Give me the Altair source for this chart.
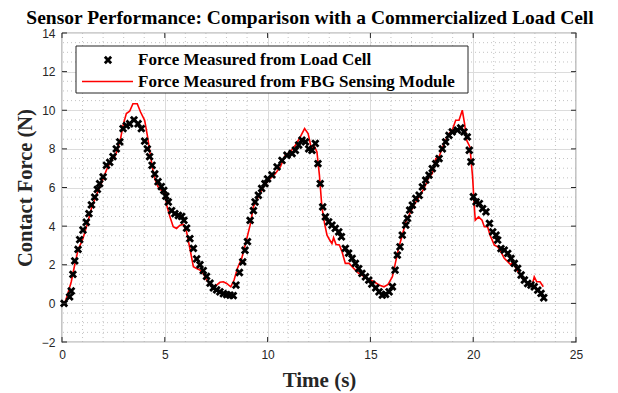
import altair as alt
import pandas as pd

# ---- data ----
t_cell = [0.1, 0.37, 0.45, 0.53, 0.62, 0.78, 0.86, 1.02, 1.18, 1.31, 1.43, 1.59, 1.72, 1.83, 2.0,
          2.16, 2.32, 2.48, 2.64, 2.81, 2.97, 3.13, 3.29, 3.5, 3.7, 3.86, 4.02, 4.15, 4.26, 4.38,
          4.51, 4.67, 4.83, 4.95, 5.05, 5.17, 5.33, 5.49, 5.66, 5.82, 5.93, 6.06, 6.22, 6.39, 6.55,
          6.71, 6.87, 7.03, 7.2, 7.36, 7.52, 7.68, 7.85, 8.01, 8.17, 8.33, 8.46, 8.63, 8.79, 8.9,
          9.02, 9.15, 9.31, 9.39, 9.55, 9.71, 9.87, 10.0, 10.21, 10.46, 10.7, 10.94, 11.19, 11.35,
          11.51, 11.67, 11.84, 12.0, 12.16, 12.32, 12.45, 12.56, 12.68, 12.81, 12.97, 13.13, 13.29,
          13.46, 13.59, 13.78, 13.94, 14.11, 14.27, 14.43, 14.59, 14.76, 14.92, 15.07, 15.26, 15.42,
          15.58, 15.74, 15.91, 16.07, 16.2, 16.31, 16.44, 16.55, 16.72, 16.8, 16.91, 17.04, 17.21,
          17.37, 17.53, 17.69, 17.85, 18.01, 18.18, 18.34, 18.5, 18.66, 18.82, 18.98, 19.23, 19.39,
          19.55, 19.71, 19.81, 19.89, 20.01, 20.14, 20.3, 20.46, 20.62, 20.79, 20.95, 21.11, 21.19,
          21.35, 21.51, 21.68, 21.84, 22.0, 22.16, 22.33, 22.49, 22.65, 22.81, 22.97, 23.14, 23.3,
          23.43]
f_cell = [0.0, 0.34, 0.64, 1.5, 2.2, 2.8, 3.3, 3.8, 4.2, 4.65, 5.1, 5.5, 5.9, 6.2, 6.55,
          7.15, 7.3, 7.6, 8.0, 8.36, 9.05, 9.2, 9.3, 9.5, 9.3, 9.05, 8.4, 8.0, 7.6, 7.15,
          6.7, 6.3, 6.05, 5.85, 5.55, 5.25, 4.8, 4.65, 4.55, 4.5, 4.3, 3.9, 3.35, 2.85, 2.3,
          2.0, 1.7, 1.4, 1.05, 0.8, 0.7, 0.6, 0.5, 0.45, 0.43, 0.4, 0.95, 1.6, 2.15, 2.75,
          3.2, 4.3, 4.8, 5.25, 5.6, 5.95, 6.2, 6.45, 6.65, 7.07, 7.4, 7.67, 7.76, 7.93,
          8.2, 8.45, 8.36, 8.0, 7.93, 8.28, 7.24, 6.2, 5.0, 4.48, 4.22, 4.05, 3.88,
          3.7, 3.45, 2.85, 2.6, 2.33, 2.07, 1.8, 1.55, 1.38, 1.2, 1.0, 0.8, 0.6,
          0.43, 0.47, 0.6, 0.86, 1.72, 2.5, 2.93, 3.53, 4.05, 4.4, 4.83, 5.09, 5.43,
          5.6, 6.03, 6.38, 6.64, 6.98, 7.24, 7.5, 8.0, 8.36, 8.7, 8.88, 8.97, 9.09,
          8.88, 8.62, 7.93, 7.33, 5.52, 5.26, 5.17, 4.91, 4.74, 4.14, 3.7, 3.53, 3.28,
          2.84, 2.76, 2.59, 2.33, 2.07, 1.81, 1.47, 1.21, 1.03, 0.95, 0.86, 0.69, 0.52,
          0.29]

t_fbg = [0.05, 0.16, 0.29, 0.45, 0.62, 0.78, 1.02, 1.26, 1.43, 1.67, 1.91, 2.16, 2.4, 2.56, 2.69,
         2.85, 2.97, 3.13, 3.29, 3.45, 3.66, 3.82, 4.02, 4.15, 4.26, 4.39, 4.51, 4.67, 4.83, 5.0,
         5.09, 5.25, 5.41, 5.57, 5.74, 5.9, 6.06, 6.22, 6.39, 6.55, 6.71, 6.87, 7.03, 7.2, 7.36,
         7.52, 7.68, 7.85, 8.01, 8.21, 8.37, 8.53, 8.74, 8.95, 9.15, 9.31, 9.55, 9.79, 10.05, 10.38,
         10.62, 10.86, 11.1, 11.35, 11.59, 11.8, 11.97, 12.13, 12.29, 12.4, 12.52, 12.64, 12.77,
         12.89, 13.02, 13.13, 13.21, 13.33, 13.49, 13.62, 13.78, 13.97, 14.19, 14.43, 14.67, 14.93,
         15.18, 15.42, 15.66, 15.86, 16.07, 16.23, 16.39, 16.55, 16.72, 16.88, 17.12, 17.37, 17.61,
         17.85, 18.01, 18.18, 18.34, 18.58, 18.82, 18.98, 19.15, 19.31, 19.47, 19.58, 19.68, 19.84,
         19.97, 20.05, 20.1, 20.26, 20.43, 20.54, 20.7, 20.82, 21.03, 21.19, 21.35, 21.51, 21.68,
         21.84, 21.92, 22.08, 22.24, 22.4, 22.57, 22.73, 22.89, 22.97, 23.09, 23.25, 23.41]
f_fbg = [0.0, 0.09, 0.52, 1.12, 2.0, 2.76, 3.36, 4.22, 4.91, 5.6, 6.2, 6.9, 7.41, 7.59, 7.93,
         8.53, 9.22, 9.83, 9.95, 10.34, 10.34, 9.91, 9.48, 8.7, 7.93, 7.07, 6.47, 6.03, 5.86, 5.81,
         5.09, 4.48, 3.97, 3.88, 4.05, 4.09, 3.7, 2.84, 1.9, 1.81, 1.72, 1.55, 1.21, 1.03, 0.86,
         0.95, 1.09, 1.12, 1.03, 0.86, 1.21, 1.81, 2.33, 3.19, 4.05, 5.0, 5.52, 6.03, 6.38, 6.72,
         7.07, 7.67, 7.84, 8.19, 8.62, 9.05, 8.79, 8.02, 8.1, 7.84, 6.64, 5.0, 4.14,
         3.53, 3.28, 3.1, 3.4, 3.05, 3.02, 2.67, 2.07, 2.07, 1.81, 1.55, 1.4, 1.25,
         1.12, 0.95, 0.86, 0.98, 1.38, 2.16, 2.93, 3.53, 4.22, 4.57, 5.09, 5.52, 5.95,
         6.55, 6.72, 7.5, 7.59, 8.28, 8.79, 8.97, 9.48, 9.48, 10.0, 9.31, 8.45, 8.1,
         6.55, 5.09, 4.31, 4.48, 4.31, 3.97, 3.97, 3.53, 3.02, 2.93, 2.67, 2.33, 2.16,
         1.98, 2.16, 1.81, 1.55, 1.29, 1.12, 0.95, 1.03, 1.38, 1.12, 1.12, 0.86]

x_ticks = [0, 5, 10, 15, 20, 25]
y_ticks = [-2, 0, 2, 4, 6, 8, 10, 12, 14]
x_minor = [v for v in range(0, 26) if v % 5 != 0]
y_minor = [v / 2 for v in range(-4, 29) if v % 4 != 0]

title_text = "Sensor Performance: Comparison with a Commercialized Load Cell"
legend_labels = ["Force Measured from Load Cell", "Force Measured from FBG Sensing Module"]
x_title = "Time (s)"
y_title = "Contact Force (N)"

W, H = 514, 309
SERIF = "Liberation Serif"
SANS = "Liberation Sans"
AX = "#262626"
XPATH = "M-1,-1L1,1M-1,1L1,-1"

cell_df = pd.DataFrame({"t": t_cell, "f": f_cell})
fbg_df = pd.DataFrame({"t": t_fbg, "f": f_fbg})

xs = alt.Scale(domain=[0, 25], nice=False, zero=False)
ys = alt.Scale(domain=[-2, 14], nice=False, zero=False)

x_axis = alt.Axis(values=x_ticks, grid=True, gridColor="#dcdcdc", gridWidth=1, domain=False,
                  ticks=False, labelFont=SANS, labelFontSize=12, labelColor=AX, labelPadding=7,
                  labelOverlap=False, labelFlush=False,
                  title=x_title, titleFont=SERIF, titleFontSize=21, titleFontWeight="bold",
                  titleColor=AX, titleY=44, titleBaseline="alphabetic")
y_axis = alt.Axis(values=y_ticks, grid=True, gridColor="#dcdcdc", gridWidth=1, domain=False,
                  ticks=False, labelFont=SANS, labelFontSize=12, labelColor=AX, labelPadding=7,
                  labelOverlap=False, labelFlush=False,
                  title=y_title, titleFont=SERIF, titleFontSize=20.5, titleFontWeight="bold",
                  titleColor=AX, titleX=-31, titleY=H / 2, titleAlign="center",
                  titleBaseline="alphabetic", titleAngle=270)


def X(field="t"):
    return alt.X(f"{field}:Q", scale=xs, axis=x_axis)


def Y(field="f"):
    return alt.Y(f"{field}:Q", scale=ys, axis=y_axis)


# minor grids
minor_x = alt.Chart(pd.DataFrame({"t": x_minor})).mark_rule(
    color="#b4b4b4", strokeWidth=0.8, strokeDash=[1, 3]).encode(x=X())
minor_y = alt.Chart(pd.DataFrame({"f": y_minor})).mark_rule(
    color="#b4b4b4", strokeWidth=0.8, strokeDash=[1, 3]).encode(y=Y())

# data
line = alt.Chart(fbg_df).mark_line(color="#ff0000", strokeWidth=1.6, clip=True).encode(
    x=X(), y=Y())
pts = alt.Chart(cell_df).mark_point(shape=XPATH, filled=False, stroke="black", strokeWidth=2.8,
                                    size=40, opacity=1).encode(x=X(), y=Y())

# inward ticks on all four sides
xt = pd.DataFrame({"t": x_ticks})
yt = pd.DataFrame({"f": y_ticks})
tick_b = alt.Chart(xt).mark_rule(color=AX, strokeWidth=1).encode(
    x=X(), y=alt.value(H), y2=alt.value(H - 5))
tick_t = alt.Chart(xt).mark_rule(color=AX, strokeWidth=1).encode(
    x=X(), y=alt.value(0), y2=alt.value(5))
tick_l = alt.Chart(yt).mark_rule(color=AX, strokeWidth=1).encode(
    y=Y(), x=alt.value(0), x2=alt.value(5))
tick_r = alt.Chart(yt).mark_rule(color=AX, strokeWidth=1).encode(
    y=Y(), x=alt.value(W - 5), x2=alt.value(W))

# legend
one = pd.DataFrame({"k": [0]})
leg_box = alt.Chart(one).mark_rect(fill="white", stroke=AX, strokeWidth=1).encode(
    x=alt.value(14), x2=alt.value(406), y=alt.value(13), y2=alt.value(60))
leg_pt = alt.Chart(one).mark_point(shape=XPATH, filled=False, stroke="black", strokeWidth=2.8,
                                   size=40, opacity=1).encode(x=alt.value(46), y=alt.value(27))
leg_ln = alt.Chart(one).mark_rule(color="#ff0000", strokeWidth=1.6).encode(
    x=alt.value(20), x2=alt.value(71), y=alt.value(48.5))
leg_t1 = alt.Chart(pd.DataFrame({"label": [legend_labels[0]]})).mark_text(
    font=SERIF, fontSize=17, fontWeight="bold", color="black", align="left", baseline="middle").encode(
    text="label:N", x=alt.value(76), y=alt.value(27))
leg_t2 = alt.Chart(pd.DataFrame({"label": [legend_labels[1]]})).mark_text(
    font=SERIF, fontSize=17, fontWeight="bold", color="black", align="left", baseline="middle").encode(
    text="label:N", x=alt.value(76), y=alt.value(48.5))

chart = alt.layer(
    minor_x, minor_y, line, pts, tick_b, tick_t, tick_l, tick_r,
    leg_box, leg_pt, leg_ln, leg_t1, leg_t2,
).properties(
    width=W, height=H,
    title=alt.TitleParams(title_text, font=SERIF, fontSize=19.5, fontWeight="bold", color="black",
                          anchor="middle", frame="group", dx=-9, dy=1, offset=0),
    autosize=alt.AutoSizeParams(type="none"),
    padding={"left": 54, "top": 25, "right": 31, "bottom": 51},
).configure_view(stroke="#404040", strokeWidth=1.2)

chart.save("out.html", embed_options={"renderer": "svg", "actions": False})
